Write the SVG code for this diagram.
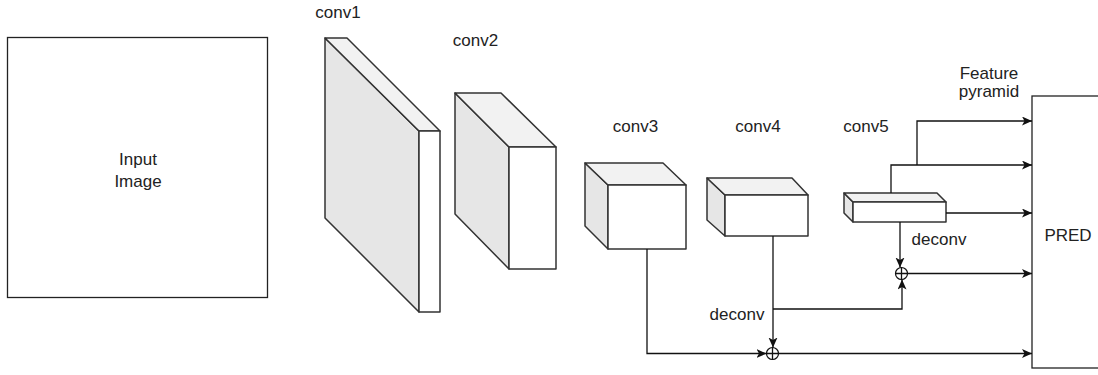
<svg xmlns="http://www.w3.org/2000/svg" width="1098" height="375" viewBox="0 0 1098 375">
  <style>
    .lbl { font-family: "Liberation Sans", Arial, Helvetica, sans-serif; font-size: 17px; fill: #222; text-anchor: middle; }
    .box { fill: #ffffff; stroke: #222; stroke-width: 1.3; }
    .side { fill: #e6e6e6; stroke: #333; stroke-width: 1.5; stroke-linejoin: round; }
    .top { fill: #f2f2f2; stroke: #333; stroke-width: 1.5; stroke-linejoin: round; }
    .front { fill: #ffffff; stroke: #333; stroke-width: 1.5; stroke-linejoin: round; }
    .edge { fill: none; stroke: #111; stroke-width: 1.3; }
    .sum { fill: #ffffff; stroke: #111; stroke-width: 1.2; }
  </style>
  <defs>
    <marker id="arrow" markerUnits="userSpaceOnUse" markerWidth="12" markerHeight="10" refX="10" refY="4.5" orient="auto">
      <path d="M0,0 L10,4.5 L0,9 L2.5,4.5 z" fill="#111"/>
    </marker>
  </defs>
  <rect width="1098" height="375" fill="#ffffff"/>

  <!-- input image -->
  <g id="input">
    <rect class="box" x="7.5" y="37.5" width="260" height="260"/>
    <text class="lbl" x="138" y="165">Input</text>
    <text class="lbl" x="138" y="186.5">Image</text>
  </g>

  <!-- convolution stages drawn as blocks -->
  <g id="conv1">
    <polygon class="side" points="325,38 419,131 419,312 325,218"/>
    <polygon class="top" points="325,38 347,38 440,131 419,131"/>
    <rect class="front" x="419" y="131" width="21" height="181"/>
    <text class="lbl" x="338" y="18">conv1</text>
  </g>
  <g id="conv2">
    <polygon class="side" points="455,93 509,147 509,269 455,214"/>
    <polygon class="top" points="455,93 501,93 556,147 509,147"/>
    <rect class="front" x="509" y="147" width="47" height="122"/>
    <text class="lbl" x="475.5" y="46">conv2</text>
  </g>
  <g id="conv3">
    <polygon class="side" points="585,163 608,185 608,249 585,226"/>
    <polygon class="top" points="585,163 663,163 686,185 608,185"/>
    <rect class="front" x="608" y="185" width="78" height="64"/>
    <text class="lbl" x="635.5" y="132">conv3</text>
  </g>
  <g id="conv4">
    <polygon class="side" points="707,178 725,195 725,236 707,220"/>
    <polygon class="top" points="707,178 792,178 808,195 725,195"/>
    <rect class="front" x="725" y="195" width="83" height="41"/>
    <text class="lbl" x="758" y="132">conv4</text>
  </g>
  <g id="conv5">
    <polygon class="side" points="844,193 853,202 853,222 844,213"/>
    <polygon class="top" points="844,193 937,193 946,202 853,202"/>
    <rect class="front" x="853" y="202" width="93" height="20"/>
    <text class="lbl" x="866" y="132">conv5</text>
  </g>

  <!-- prediction head -->
  <g id="pred">
    <rect class="box" x="1032" y="96" width="72" height="272"/>
    <text class="lbl" x="1068" y="240.5">PRED</text>
  </g>

  <g id="pyramid-label">
    <text class="lbl" x="989" y="79">Feature</text>
    <text class="lbl" x="989" y="97">pyramid</text>
  </g>

  <!-- element-wise sum nodes -->
  <g id="sum-upper">
    <circle class="sum" cx="901.5" cy="273.5" r="6"/>
    <path class="edge" d="M895.5,273.5 H907.5 M901.5,267.5 V279.5"/>
  </g>
  <g id="sum-lower">
    <circle class="sum" cx="772.5" cy="353.5" r="6"/>
    <path class="edge" d="M766.5,353.5 H778.5 M772.5,347.5 V359.5"/>
  </g>

  <!-- connectors -->
  <g id="connectors">
    <path class="edge" d="M917,165 V121 H1032" marker-end="url(#arrow)"/>
    <path class="edge" d="M891,193 V165 H1032" marker-end="url(#arrow)"/>
    <path class="edge" d="M946,213 H1032" marker-end="url(#arrow)"/>
    <path class="edge" d="M900,222 V267.5" marker-end="url(#arrow)"/>
    <path class="edge" d="M907.5,273.5 H1032" marker-end="url(#arrow)"/>
    <path class="edge" d="M773,236 V347.5" marker-end="url(#arrow)"/>
    <path class="edge" d="M773,309 H902 V279.5" marker-end="url(#arrow)"/>
    <path class="edge" d="M647,249 V353.5 H766.5" marker-end="url(#arrow)"/>
    <path class="edge" d="M778.5,353.5 H1032" marker-end="url(#arrow)"/>
    <text class="lbl" x="939" y="245">deconv</text>
    <text class="lbl" x="737" y="320">deconv</text>
  </g>
</svg>
